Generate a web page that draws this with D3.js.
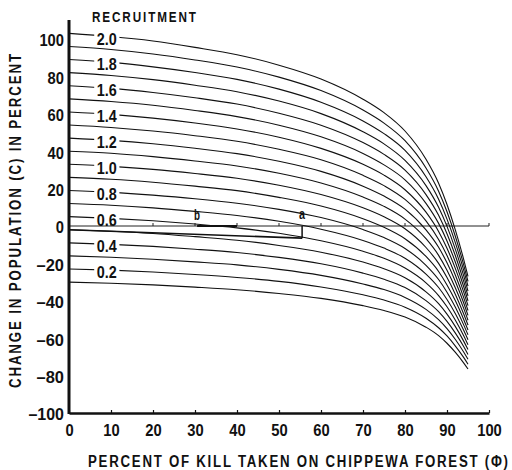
<!DOCTYPE html>
<html>
<head>
<meta charset="utf-8">
<script src="https://cdn.jsdelivr.net/npm/d3@7"></script>
<style>
  body { margin: 0; background: #fff; }
  svg text { font-family: "Liberation Sans", Arial, sans-serif; font-weight: bold; fill: #111; }
</style>
</head>
<body>
<div id="chart"></div>
<script>
// percent of kill taken (x) where each curve was read
const phi = [0, 10, 20, 30, 40, 50, 60, 70, 75, 80, 85, 88, 90, 92, 94, 95];
const recruitment = [2.0, 1.9, 1.8, 1.7, 1.6, 1.5, 1.4, 1.3, 1.2, 1.1, 1.0, 0.9, 0.8, 0.7, 0.6, 0.5, 0.4, 0.3, 0.2, 0.1];

// change in population (%) for each recruitment curve
const r20 = [103, 101.3, 98.9, 95.5, 91.6, 86.0, 78.6, 67.8, 60.6, 50.8, 35.7, 22.9, 11.5, -2.2, -18.1, -27.0];
const r19 = [96, 94.4, 92.0, 88.8, 85.0, 79.6, 72.4, 62.0, 55.0, 45.6, 31.0, 18.6, 7.6, -5.6, -21.0, -29.6];
const r18 = [89, 87.5, 85.1, 82.1, 78.4, 73.2, 66.2, 56.2, 49.4, 40.4, 26.3, 14.3, 3.7, -9.0, -23.9, -32.2];
const r17 = [82, 80.5, 78.3, 75.3, 71.8, 66.8, 60.1, 50.4, 43.9, 35.1, 21.6, 10.0, -0.2, -12.5, -26.8, -34.8];
const r16 = [75, 73.6, 71.4, 68.6, 65.2, 60.3, 53.9, 44.6, 38.3, 29.9, 16.8, 5.7, -4.1, -15.9, -29.7, -37.4];
const r15 = [68, 66.6, 64.6, 61.8, 58.5, 53.9, 47.7, 38.8, 32.7, 24.7, 12.1, 1.4, -8.0, -19.4, -32.6, -40.0];
const r14 = [61, 59.7, 57.7, 55.1, 51.9, 47.5, 41.5, 33.0, 27.2, 19.4, 7.4, -2.9, -11.9, -22.8, -35.5, -42.6];
const r13 = [54, 52.7, 50.8, 48.3, 45.3, 41.0, 35.4, 27.1, 21.6, 14.2, 2.7, -7.2, -15.8, -26.3, -38.4, -45.2];
const r12 = [47, 45.8, 44.0, 41.6, 38.7, 34.6, 29.2, 21.3, 16.0, 9.0, -2.1, -11.4, -19.7, -29.7, -41.3, -47.8];
const r11 = [40, 38.9, 37.1, 34.8, 32.1, 28.2, 23.0, 15.5, 10.5, 3.7, -6.8, -15.7, -23.7, -33.2, -44.2, -50.4];
const r10 = [33, 31.9, 30.3, 28.1, 25.5, 21.8, 16.8, 9.7, 4.9, -1.5, -11.5, -20.0, -27.6, -36.6, -47.2, -53.0];
const r09 = [26, 25.0, 23.4, 21.3, 18.9, 15.3, 10.7, 3.9, -0.7, -6.8, -16.3, -24.3, -31.5, -40.0, -50.1, -55.6];
const r08 = [19, 18.0, 16.5, 14.6, 12.2, 8.9, 4.5, -1.9, -6.2, -12.0, -21.0, -28.6, -35.4, -43.5, -53.0, -58.2];
const r07 = [12, 11.1, 9.7, 7.8, 5.6, 2.5, -1.7, -7.7, -11.8, -17.2, -25.7, -32.9, -39.3, -46.9, -55.9, -60.8];
const r06 = [5, 4.1, 2.8, 1.1, -1.0, -3.9, -7.9, -13.5, -17.3, -22.5, -30.4, -37.2, -43.2, -50.4, -58.8, -63.5];
const r05 = [-2, -2.8, -4.0, -5.7, -7.6, -10.4, -14.0, -19.3, -22.9, -27.7, -35.2, -41.5, -47.1, -53.8, -61.7, -66.1];
const r04 = [-9, -9.8, -10.9, -12.4, -14.2, -16.8, -20.2, -25.2, -28.5, -32.9, -39.9, -45.8, -51.0, -57.3, -64.6, -68.7];
const r03 = [-16, -16.7, -17.8, -19.2, -20.8, -23.2, -26.4, -31.0, -34.0, -38.2, -44.6, -50.1, -54.9, -60.7, -67.5, -71.3];
const r02 = [-23, -23.6, -24.6, -25.9, -27.5, -29.6, -32.6, -36.8, -39.6, -43.4, -49.3, -54.4, -58.8, -64.2, -70.4, -73.9];
const r01 = [-30, -30.6, -31.5, -32.7, -34.1, -36.1, -38.7, -42.6, -45.2, -48.7, -54.1, -58.6, -62.7, -67.6, -73.3, -76.5];

const xTicks = [0, 10, 20, 30, 40, 50, 60, 70, 80, 90, 100];
const yTicks = [100, 80, 60, 40, 20, 0, -20, -40, -60, -80, -100];

// line from the axis to point a, and the a / b markers
const lineA = [[0, -2], [55.5, -6.5]];
const pointA = 55.5;
const pointB = 30.5;

const curveValues = [r20, r19, r18, r17, r16, r15, r14, r13, r12, r11, r10, r09, r08, r07, r06, r05, r04, r03, r02, r01];
const series = recruitment.map((r, i) => ({
  r: r,
  points: phi.map((p, j) => [p, curveValues[i][j]])
}));

const width = 512, height = 470;
const svg = d3.select("#chart").append("svg")
  .attr("width", width)
  .attr("height", height);

const x = d3.scaleLinear().domain([0, 100]).range([69, 489]);
const y = d3.scaleLinear().domain([-100, 100]).range([413, 39]);

const line = d3.line()
  .x(d => x(d[0]))
  .y(d => y(d[1]))
  .curve(d3.curveMonotoneX);

// zero line with its small ticks
svg.append("line")
  .attr("x1", x(0)).attr("x2", x(100))
  .attr("y1", y(0)).attr("y2", y(0))
  .attr("stroke", "#222").attr("stroke-width", 1);
svg.append("g")
  .selectAll("line")
  .data(xTicks.slice(1))
  .enter()
  .append("line")
  .attr("x1", d => x(d)).attr("x2", d => x(d))
  .attr("y1", y(0)).attr("y2", y(0) - 3)
  .attr("stroke", "#222");

// curves
svg.append("g")
  .selectAll("path")
  .data(series)
  .enter()
  .append("path")
  .attr("d", d => line(d.points))
  .attr("fill", "none")
  .attr("stroke", "#111")
  .attr("stroke-width", 1.1);

// a / b construction
svg.append("path")
  .attr("d", d3.line().x(d => x(d[0])).y(d => y(d[1]))(lineA))
  .attr("stroke", "#111").attr("stroke-width", 1.6).attr("fill", "none");
svg.append("line")
  .attr("x1", x(pointA)).attr("x2", x(pointA))
  .attr("y1", y(0)).attr("y2", y(lineA[1][1]))
  .attr("stroke", "#111").attr("stroke-width", 1.5);
svg.append("line")
  .attr("x1", x(pointB)).attr("x2", x(40))
  .attr("y1", y(0)).attr("y2", y(0))
  .attr("stroke", "#111").attr("stroke-width", 1.8);
svg.append("text")
  .attr("x", x(pointA)).attr("y", y(0) - 7)
  .attr("text-anchor", "middle")
  .attr("textLength", 6).attr("lengthAdjust", "spacingAndGlyphs")
  .style("font-size", "15px")
  .text("a");
svg.append("text")
  .attr("x", x(pointB)).attr("y", y(0) - 6)
  .attr("text-anchor", "middle")
  .attr("textLength", 6).attr("lengthAdjust", "spacingAndGlyphs")
  .style("font-size", "15px")
  .text("b");

// curve labels on every other curve
const labelled = series.filter((d, i) => i % 2 === 0);
const labels = svg.append("g");
labels.selectAll("rect")
  .data(labelled)
  .enter()
  .append("rect")
  .attr("x", x(6)).attr("width", x(12) - x(6))
  .attr("y", d => y(d.points[1][1]) - 5)
  .attr("height", 10)
  .attr("fill", "#fff");
labels.selectAll("text")
  .data(labelled)
  .enter()
  .append("text")
  .attr("x", x(9))
  .attr("y", d => y(d.points[1][1]) + 8)
  .attr("text-anchor", "middle")
  .attr("textLength", 20)
  .attr("lengthAdjust", "spacingAndGlyphs")
  .style("font-size", "16px")
  .text(d => d.r.toFixed(1));

// left axis
const yFmt = d => d < 0 ? "\u2013" + Math.abs(d) : String(d);
const yAxis = svg.append("g")
  .attr("transform", "translate(" + x(0) + ",0)")
  .call(d3.axisLeft(y).tickValues(yTicks).tickSize(0).tickPadding(5).tickFormat(yFmt));
yAxis.select(".domain").remove();
yAxis.selectAll("text")
  .style("font-size", "17px")
  .attr("dy", "0.4em")
  .attr("lengthAdjust", "spacingAndGlyphs")
  .attr("textLength", d => String(Math.abs(d)).length * 8.2 + (d < 0 ? 11 : 0));
svg.append("line")
  .attr("x1", x(0)).attr("x2", x(0))
  .attr("y1", 20).attr("y2", y(-100) + 1)
  .attr("stroke", "#111").attr("stroke-width", 3);

// bottom axis
const xAxis = svg.append("g")
  .attr("transform", "translate(0," + y(-100) + ")")
  .call(d3.axisBottom(x).tickValues(xTicks).tickSize(-3).tickSizeOuter(0).tickPadding(11));
xAxis.select(".domain").attr("stroke", "#111").attr("stroke-width", 2.5);
xAxis.selectAll(".tick line").attr("stroke", "#111").attr("stroke-width", 1.2);
xAxis.selectAll("text")
  .style("font-size", "17px")
  .attr("lengthAdjust", "spacingAndGlyphs")
  .attr("textLength", d => String(d).length * 8.2);

// titles, condensed like the original lettering
svg.append("text")
  .attr("transform", "translate(92,22) scale(0.78,1)")
  .attr("textLength", 104 / 0.78)
  .attr("lengthAdjust", "spacing")
  .style("font-size", "15px")
  .text("RECRUITMENT");

svg.append("text")
  .attr("transform", "translate(88,467) scale(0.78,1)")
  .attr("textLength", 420 / 0.78)
  .attr("lengthAdjust", "spacing")
  .style("font-size", "17px")
  .text("PERCENT OF KILL TAKEN ON CHIPPEWA FOREST (\u03A6)");

svg.append("text")
  .attr("transform", "translate(21,388) rotate(-90) scale(0.78,1)")
  .attr("textLength", 334 / 0.78)
  .attr("lengthAdjust", "spacing")
  .style("font-size", "17px")
  .text("CHANGE IN POPULATION (C) IN PERCENT");
</script>
</body>
</html>
